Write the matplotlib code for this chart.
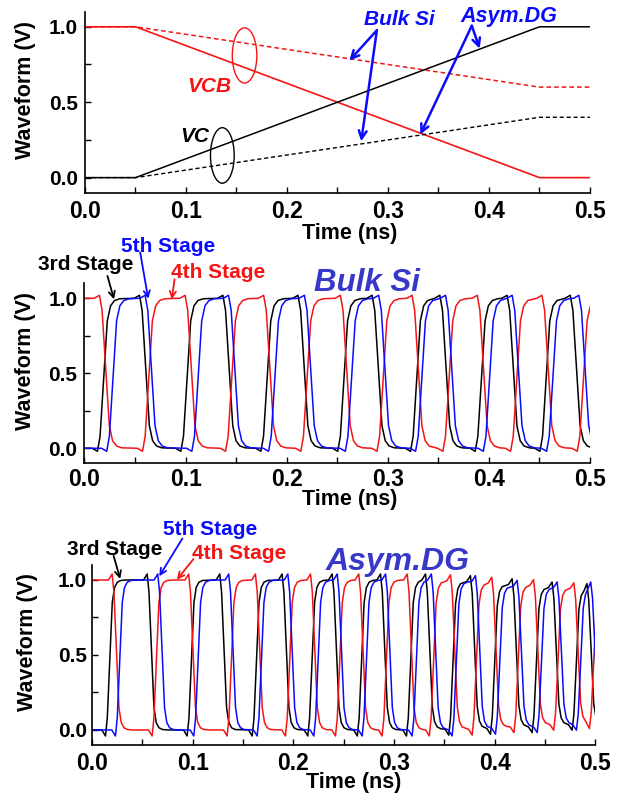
import numpy as np
import matplotlib
matplotlib.use("Agg")
import matplotlib.pyplot as plt
from matplotlib.patches import Ellipse
from matplotlib.ticker import MultipleLocator

plt.rcParams['font.family'] = ['Liberation Sans', 'DejaVu Sans']
plt.rcParams['font.weight'] = 'bold'

RED = '#f51414'
BLUE = '#0a0aff'
TAG = '#3838c8'

# ---- top panel: ramp waveforms (ns, V)
t_ramp = [0.0, 0.05, 0.45, 0.5]
vcb_dg = [1.0, 1.0, 0.0, 0.0]
vcb_bulk = [1.0, 1.0, 0.6, 0.6]
vc_dg = [0.0, 0.0, 1.0, 1.0]
vc_bulk = [0.0, 0.0, 0.4, 0.4]

# ---- ring oscillator, Bulk Si: switching instants (ns)
bulk_3rd = [0.0193, 0.0609, 0.1018, 0.1434, 0.181, 0.2177, 0.257, 0.291,
            0.329, 0.358, 0.393, 0.4245, 0.457, 0.487]
bulk_4th = [0.0213, 0.0639, 0.106, 0.146, 0.1837, 0.2205, 0.2596, 0.2958,
            0.3305, 0.361, 0.395, 0.428, 0.459, 0.4939]
bulk_5th = [0.0285, 0.0665, 0.1127, 0.149, 0.1886, 0.224, 0.2645, 0.2975,
            0.334, 0.3636, 0.401, 0.4295, 0.4636, 0.4955]

# ---- ring oscillator, Asym.DG: switching instants (ns) and plateau levels (V)
dg_3rd = [0.0179, 0.0593, 0.099, 0.1314, 0.1636, 0.1933, 0.2188, 0.243, 0.268,
          0.291, 0.3168, 0.3357, 0.3588, 0.3803, 0.4002, 0.4217, 0.4416,
          0.4614, 0.4813, 0.496]
dg_3rd_lv = [0.0, 1.0, 0.0, 1.0, 0.0, 1.0, 0.0, 1.0, 0.0, 1.0, 0.0, 1.0, 0.005,
             0.99, 0.01, 0.97, 0.02, 0.95, 0.035, 0.94, 0.04]
dg_4th = [0.0245, 0.0642, 0.1005, 0.1387, 0.1668, 0.1966, 0.2215, 0.2463,
          0.2694, 0.2926, 0.3175, 0.3395, 0.3605, 0.382, 0.4015, 0.4235,
          0.443, 0.463, 0.483, 0.4985]
dg_4th_lv = [1.0, 0.0, 1.0, 0.0, 1.0, 0.0, 1.0, 0.0, 1.0, 0.0, 1.0, 0.0, 0.995,
             0.005, 0.98, 0.02, 0.965, 0.035, 0.945, 0.045, 0.94]
dg_5th = [0.0278, 0.0698, 0.1056, 0.1403, 0.1685, 0.199, 0.2248, 0.248,
          0.2728, 0.296, 0.3224, 0.3415, 0.3621, 0.3853, 0.4052, 0.4267,
          0.4466, 0.4664, 0.4856, 0.4998]
dg_5th_lv = [0.0, 1.0, 0.0, 1.0, 0.0, 1.0, 0.0, 1.0, 0.0, 1.0, 0.0, 1.0, 0.0,
             0.99, 0.01, 0.96, 0.02, 0.95, 0.035, 0.95, 0.04]

# normalised shape of one switching edge (offset in edge widths, fraction of swing)
EDGE_OFS = np.array([-0.9, -0.5, -0.3, 0.0, 0.25, 0.5, 0.8, 1.2, 1.8])
EDGE_FRAC = np.array([0.0, np.nan, 0.08, 0.5, 0.85, 0.95, 0.985, 0.997, 1.0])


def alternating(start, n):
    return [start if k % 2 == 0 else 1.0 - start for k in range(n + 1)]


def trace(edges, levels, width, bump):
    t, v = [0.0], [levels[0]]
    for i, c in enumerate(edges):
        a, b = levels[i], levels[i + 1]
        lo = 0.5 * (edges[i - 1] + c) if i > 0 else 0.0
        hi = 0.5 * (c + edges[i + 1]) if i < len(edges) - 1 else np.inf
        for o, f in zip(EDGE_OFS, EDGE_FRAC):
            tt = c + o * width
            if lo < tt < hi:
                f = -bump if np.isnan(f) else f
                t.append(tt)
                v.append(a + f * (b - a))
    return t, v


def style(ax, xpad, ypad):
    ax.set_xlim(0, 0.5)
    ax.set_ylim(-0.1, 1.1)
    ax.spines['top'].set_visible(False)
    ax.spines['right'].set_visible(False)
    for s in ('left', 'bottom'):
        ax.spines[s].set_linewidth(1.2)
    ax.xaxis.set_major_locator(MultipleLocator(0.1))
    ax.xaxis.set_minor_locator(MultipleLocator(0.05))
    ax.yaxis.set_major_locator(MultipleLocator(0.5))
    ax.yaxis.set_minor_locator(MultipleLocator(0.25))
    ax.xaxis.set_major_formatter('{x:.1f}')
    ax.yaxis.set_major_formatter('{x:.1f}')
    ax.tick_params(which='both', direction='in', length=4, width=1)
    ax.tick_params(axis='x', labelsize=16.5, pad=xpad)
    ax.tick_params(axis='y', labelsize=15, pad=ypad)
    ax.set_ylabel('Waveform (V)', fontsize=15.5, fontweight='bold')


def stage_labels(ax, pos3, pos5, pos4, arrows):
    ax.text(*pos3, '3rd Stage', color='black', fontsize=15, ha='center', va='center')
    ax.text(*pos5, '5th Stage', color=BLUE, fontsize=15, ha='center', va='center')
    ax.text(*pos4, '4th Stage', color=RED, fontsize=15, ha='center', va='center')
    for col, (start, end) in zip(['black', BLUE, RED], arrows):
        ax.annotate('', xy=end, xytext=start,
                    arrowprops=dict(arrowstyle='->', color=col, lw=1.3,
                                    shrinkA=0, shrinkB=0, mutation_scale=11))


fig = plt.figure(figsize=(6.19, 7.96), dpi=100)
ax1 = fig.add_axes([0.1373, 0.7579, 0.8158, 0.2274])
ax2 = fig.add_axes([0.1365, 0.4180, 0.8166, 0.2261])
ax3 = fig.add_axes([0.1486, 0.0641, 0.8134, 0.2261])

# top panel
style(ax1, 5.5, 5)
ax1.plot(t_ramp, vcb_dg, color=RED, lw=1.2)
ax1.plot(t_ramp, vcb_bulk, color=RED, lw=1.1, ls=(0, (3, 2)))
ax1.plot(t_ramp, vc_dg, color='black', lw=1.1)
ax1.plot(t_ramp, vc_bulk, color='black', lw=1.0, ls=(0, (3, 2)))
ax1.add_patch(Ellipse((0.158, 0.81), 0.0243, 0.366, fill=False, ec=RED, lw=1))
ax1.add_patch(Ellipse((0.136, 0.147), 0.0235, 0.368, fill=False, ec='black', lw=1))
ax1.text(0.1228, 0.605, 'VCB', color=RED, fontsize=15, style='italic', ha='center', va='center')
ax1.text(0.109, 0.274, 'VC', color='black', fontsize=15, style='italic', ha='center', va='center')
ax1.text(0.311, 1.05, 'Bulk Si', color=BLUE, fontsize=15, style='italic', ha='center', va='center')
ax1.text(0.42, 1.067, 'Asym.DG', color=BLUE, fontsize=15.5, style='italic', ha='center', va='center')
arrow_kw = dict(arrowstyle='->', color=BLUE, lw=1.8, shrinkA=0, shrinkB=0, mutation_scale=14)
for end in [(0.2618, 0.776), (0.2735, 0.241)]:
    ax1.annotate('', xy=end, xytext=(0.289, 0.977), arrowprops=arrow_kw)
for end in [(0.3908, 0.855), (0.332, 0.286)]:
    ax1.annotate('', xy=end, xytext=(0.383, 1.007), arrowprops=arrow_kw)
ax1.set_xlabel('Time (ns)', fontsize=15.5, fontweight='bold')
ax1.xaxis.set_label_coords(0.525, -0.165)
ax1.yaxis.set_label_coords(-0.097, 0.57)

# middle panel: Bulk Si
style(ax2, 3.5, 5)
for edges, start, col in [(bulk_3rd, 0.0, 'black'), (bulk_4th, 1.0, RED), (bulk_5th, 0.0, BLUE)]:
    t, v = trace(edges, alternating(start, len(edges)), 0.013, 0.02)
    ax2.plot(t, v, color=col, lw=1.1)
ax2.text(0.2797, 1.105, 'Bulk Si', color=TAG, fontsize=22.5, style='italic', ha='center', va='center')
stage_labels(ax2, (0.0013, 1.222), (0.083, 1.343), (0.1317, 1.171),
             [((0.0227, 1.149), (0.0292, 0.993)),
              ((0.0551, 1.306), (0.063, 0.997)),
              ((0.0891, 1.127), (0.0863, 0.993))])
ax2.set_xlabel('Time (ns)', fontsize=15.5, fontweight='bold')
ax2.xaxis.set_label_coords(0.525, -0.145)
ax2.yaxis.set_label_coords(-0.096, 0.57)

# bottom panel: Asym.DG
style(ax3, 5, 3.5)
for edges, lv, col in [(dg_3rd, dg_3rd_lv, 'black'), (dg_4th, dg_4th_lv, RED), (dg_5th, dg_5th_lv, BLUE)]:
    t, v = trace(edges, lv, 0.009, 0.04)
    ax3.plot(t, v, color=col, lw=1.1)
ax3.text(0.3037, 1.122, 'Asym.DG', color=TAG, fontsize=23, style='italic', ha='center', va='center')
stage_labels(ax3, (0.0223, 1.206), (0.1174, 1.334), (0.1458, 1.18),
             [((0.0215, 1.161), (0.028, 1.007)),
              ((0.0898, 1.277), (0.0668, 1.025)),
              ((0.1007, 1.139), (0.0843, 1.002))])
ax3.set_xlabel('Time (ns)', fontsize=15.5, fontweight='bold')
ax3.xaxis.set_label_coords(0.52, -0.15)
ax3.yaxis.set_label_coords(-0.108, 0.57)

fig.savefig('out.png', dpi=100)
